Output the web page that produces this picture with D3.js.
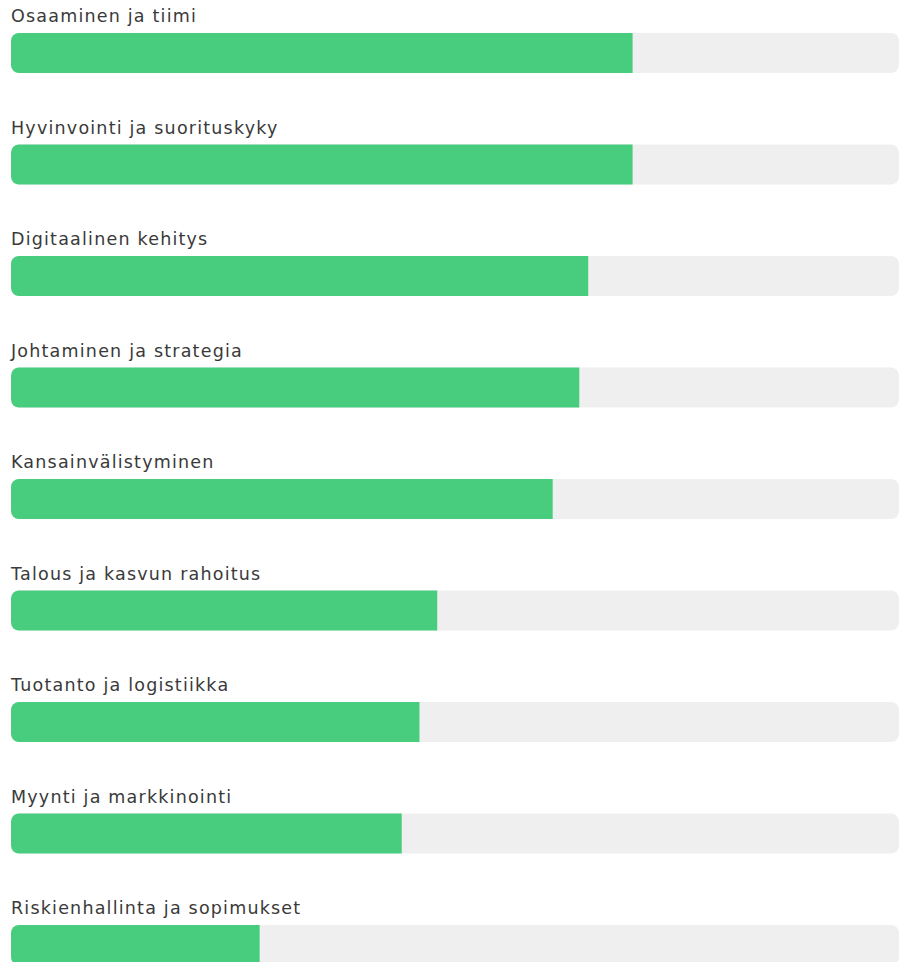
<!DOCTYPE html>
<html>
<head>
<meta charset="utf-8">
<script src="https://cdn.jsdelivr.net/npm/d3@7"></script>
<style>
  body { margin: 0; background: #fff; }
  .label { font-family: "DejaVu Sans", sans-serif; font-size: 17.5px; letter-spacing: 1.2px; fill: #3a3a3a; }
</style>
</head>
<body>
<div id="chart"></div>
<script>
// categories and their scores (percent of the full track)
var categories = [
  "Osaaminen ja tiimi",
  "Hyvinvointi ja suorituskyky",
  "Digitaalinen kehitys",
  "Johtaminen ja strategia",
  "Kansainvälistyminen",
  "Talous ja kasvun rahoitus",
  "Tuotanto ja logistiikka",
  "Myynti ja markkinointi",
  "Riskienhallinta ja sopimukset"
];
var values = [70, 70, 65, 64, 61, 48, 46, 44, 28];
var maxValue = 100;

var width = 902, height = 962;
var margin = {left: 11, right: 3, top: 33};
var step = 111.5, barH = 40, r = 8;

var svg = d3.select("#chart").append("svg")
    .attr("width", width)
    .attr("height", height);

var x = d3.scaleLinear()
    .domain([0, maxValue])
    .range([margin.left, width - margin.right]);

var y = d3.scaleBand()
    .domain(categories)
    .range([margin.top, margin.top + step * categories.length]);

var data = categories.map(function(c, i) { return {name: c, value: values[i]}; });

var row = svg.selectAll("g.row")
    .data(data)
  .enter().append("g")
    .attr("class", "row")
    .attr("transform", function(d) { return "translate(0," + y(d.name) + ")"; });

// grey track
row.append("rect")
    .attr("x", x(0))
    .attr("y", 0)
    .attr("width", x(maxValue) - x(0))
    .attr("height", barH)
    .attr("rx", r)
    .attr("fill", "#efefef");

// green bar: rounded on the left, square on the right
row.append("path")
    .attr("fill", "#48cc7e")
    .attr("d", function(d) {
      var x0 = x(0), x1 = x(d.value);
      return "M" + (x0 + r) + ",0H" + x1 + "V" + barH + "H" + (x0 + r) +
        "A" + r + "," + r + " 0 0 1 " + x0 + "," + (barH - r) +
        "V" + r + "A" + r + "," + r + " 0 0 1 " + (x0 + r) + ",0Z";
    });

row.append("text")
    .attr("class", "label")
    .attr("x", x(0))
    .attr("y", -11)
    .text(function(d) { return d.name; });
</script>
</body>
</html>
